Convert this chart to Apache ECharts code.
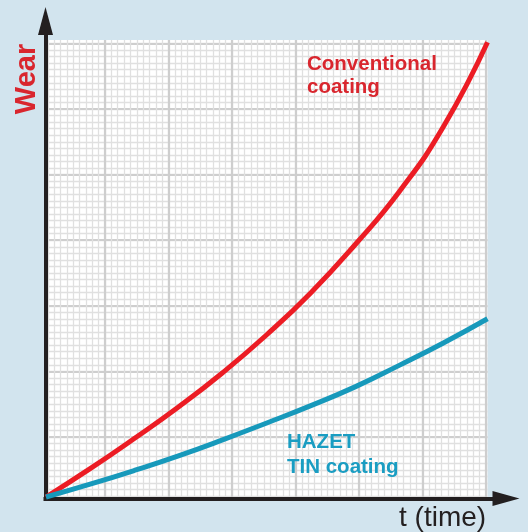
<!DOCTYPE html>
<html>
<head>
<meta charset="utf-8">
<title>Wear over time</title>
<script src="https://cdn.jsdelivr.net/npm/echarts@6/dist/echarts.min.js"></script>
<style>
  html, body { margin: 0; padding: 0; background: #d2e4ee; }
  #chart { width: 528px; height: 532px; }
</style>
</head>
<body>
<div id="chart"></div>
<script>
// Time steps (arbitrary units) and wear readings for both coatings
const timeSteps = [0, 1, 2, 3, 4, 5, 6, 7, 8, 9, 10];
const conventionalWear = [0, 0.62, 1.28, 1.97, 2.72, 3.55, 4.47, 5.52, 6.68, 8.1, 9.95];
const hazetWear = [0, 0.28, 0.58, 0.9, 1.25, 1.62, 2.0, 2.41, 2.88, 3.37, 3.9];

// Text drawn on the chart
const yTitle = 'Wear';
const xTitle = 't (time)';
const conventionalLabel = 'Conventional\ncoating';
const hazetLabel = 'HAZET\nTIN coating';

const RED = '#ec1c24';
const RED_TEXT = '#d9262e';
const BLUE = '#1799bb';
const BLUE_TEXT = '#1a9dc2';
const INK = '#231f20';

const pairs = (xs, ys) => xs.map((x, i) => [x, ys[i]]);

const hidden = {
  axisLine: { show: false },
  axisTick: { show: false },
  axisLabel: { show: false }
};

const minorRule = { color: '#e0e0e0', width: 1.3 };
const majorRule = { color: '#cecece', width: 2.2 };

const chart = echarts.init(document.getElementById('chart'), null, { renderer: 'canvas' });

chart.setOption({
  backgroundColor: '#d2e4ee',
  animation: false,
  grid: [
    // 0: white plotting paper + data
    { left: 46, top: 40, width: 441.5, height: 457, show: true, backgroundColor: '#ffffff', borderWidth: 0 },
    // 1: vertical ruling
    { left: 41.5, top: 40, width: 446, height: 457 },
    // 2: horizontal ruling
    { left: 46, top: 40, width: 441.5, height: 462.6 },
    // 3: the two arrowed axes
    { left: 45.5, top: 21, width: 460.5, height: 477.5 }
  ],
  xAxis: [
    { gridIndex: 0, type: 'value', min: 0, max: 10, splitLine: { show: false }, ...hidden },
    // minor verticals
    { gridIndex: 1, type: 'value', min: 0, max: 446, interval: 6.35, ...hidden,
      splitLine: { show: true, showMinLine: false, showMaxLine: false, lineStyle: minorRule } },
    // major verticals
    { gridIndex: 1, type: 'value', min: 0, max: 446, interval: 63.5, ...hidden,
      splitLine: { show: true, showMinLine: false, showMaxLine: false, lineStyle: majorRule } },
    { gridIndex: 2, type: 'value', min: 0, max: 1, splitLine: { show: false }, ...hidden },
    // arrowed time axis
    { gridIndex: 3, type: 'value', min: 0, max: 1, splitLine: { show: false },
      axisTick: { show: false }, axisLabel: { show: false },
      axisLine: { show: true, onZero: false, symbol: ['none', 'triangle'], symbolSize: [15, 27],
        lineStyle: { color: INK, width: 4, cap: 'square' } } }
  ],
  yAxis: [
    { gridIndex: 0, type: 'value', min: 0, max: 10, splitLine: { show: false }, ...hidden },
    { gridIndex: 1, type: 'value', min: 0, max: 1, splitLine: { show: false }, ...hidden },
    // minor horizontals
    { gridIndex: 2, type: 'value', min: 0, max: 462.6, interval: 6.56, ...hidden,
      splitLine: { show: true, showMinLine: false, showMaxLine: false, lineStyle: minorRule } },
    // major horizontals
    { gridIndex: 2, type: 'value', min: 0, max: 462.6, interval: 65.6, ...hidden,
      splitLine: { show: true, showMinLine: false, showMaxLine: false, lineStyle: majorRule } },
    // arrowed wear axis
    { gridIndex: 3, type: 'value', min: 0, max: 1, splitLine: { show: false },
      axisTick: { show: false }, axisLabel: { show: false },
      axisLine: { show: true, onZero: false, symbol: ['none', 'triangle'], symbolSize: [15, 28],
        lineStyle: { color: INK, width: 4, cap: 'square' } } }
  ],
  series: [
    {
      name: 'Conventional coating', type: 'line', xAxisIndex: 0, yAxisIndex: 0,
      data: pairs(timeSteps, conventionalWear), smooth: true, showSymbol: false, clip: false,
      lineStyle: { color: RED, width: 5 }, z: 5
    },
    {
      name: 'HAZET TIN coating', type: 'line', xAxisIndex: 0, yAxisIndex: 0,
      data: pairs(timeSteps, hazetWear), smooth: true, showSymbol: false, clip: false,
      lineStyle: { color: BLUE, width: 5 }, z: 5
    }
  ],
  graphic: [
    { type: 'text', x: 27, y: 79, rotation: Math.PI / 2, z: 10,
      style: { text: yTitle, fill: RED_TEXT, font: 'bold 29px "Liberation Sans", Arial, sans-serif',
        align: 'center', verticalAlign: 'middle' } },
    { type: 'text', x: 399, y: 518, z: 10,
      style: { text: xTitle, fill: INK, font: '28px "Liberation Sans", Arial, sans-serif',
        align: 'left', verticalAlign: 'middle' } },
    { type: 'text', x: 307, y: 52.5, z: 10,
      style: { text: conventionalLabel, fill: RED_TEXT, font: 'bold 20.5px "Liberation Sans", Arial, sans-serif',
        lineHeight: 23, align: 'left', verticalAlign: 'top' } },
    { type: 'text', x: 287, y: 429.5, z: 10,
      style: { text: hazetLabel, fill: BLUE_TEXT, font: 'bold 20.5px "Liberation Sans", Arial, sans-serif',
        lineHeight: 25, align: 'left', verticalAlign: 'top' } }
  ]
});
</script>
</body>
</html>
